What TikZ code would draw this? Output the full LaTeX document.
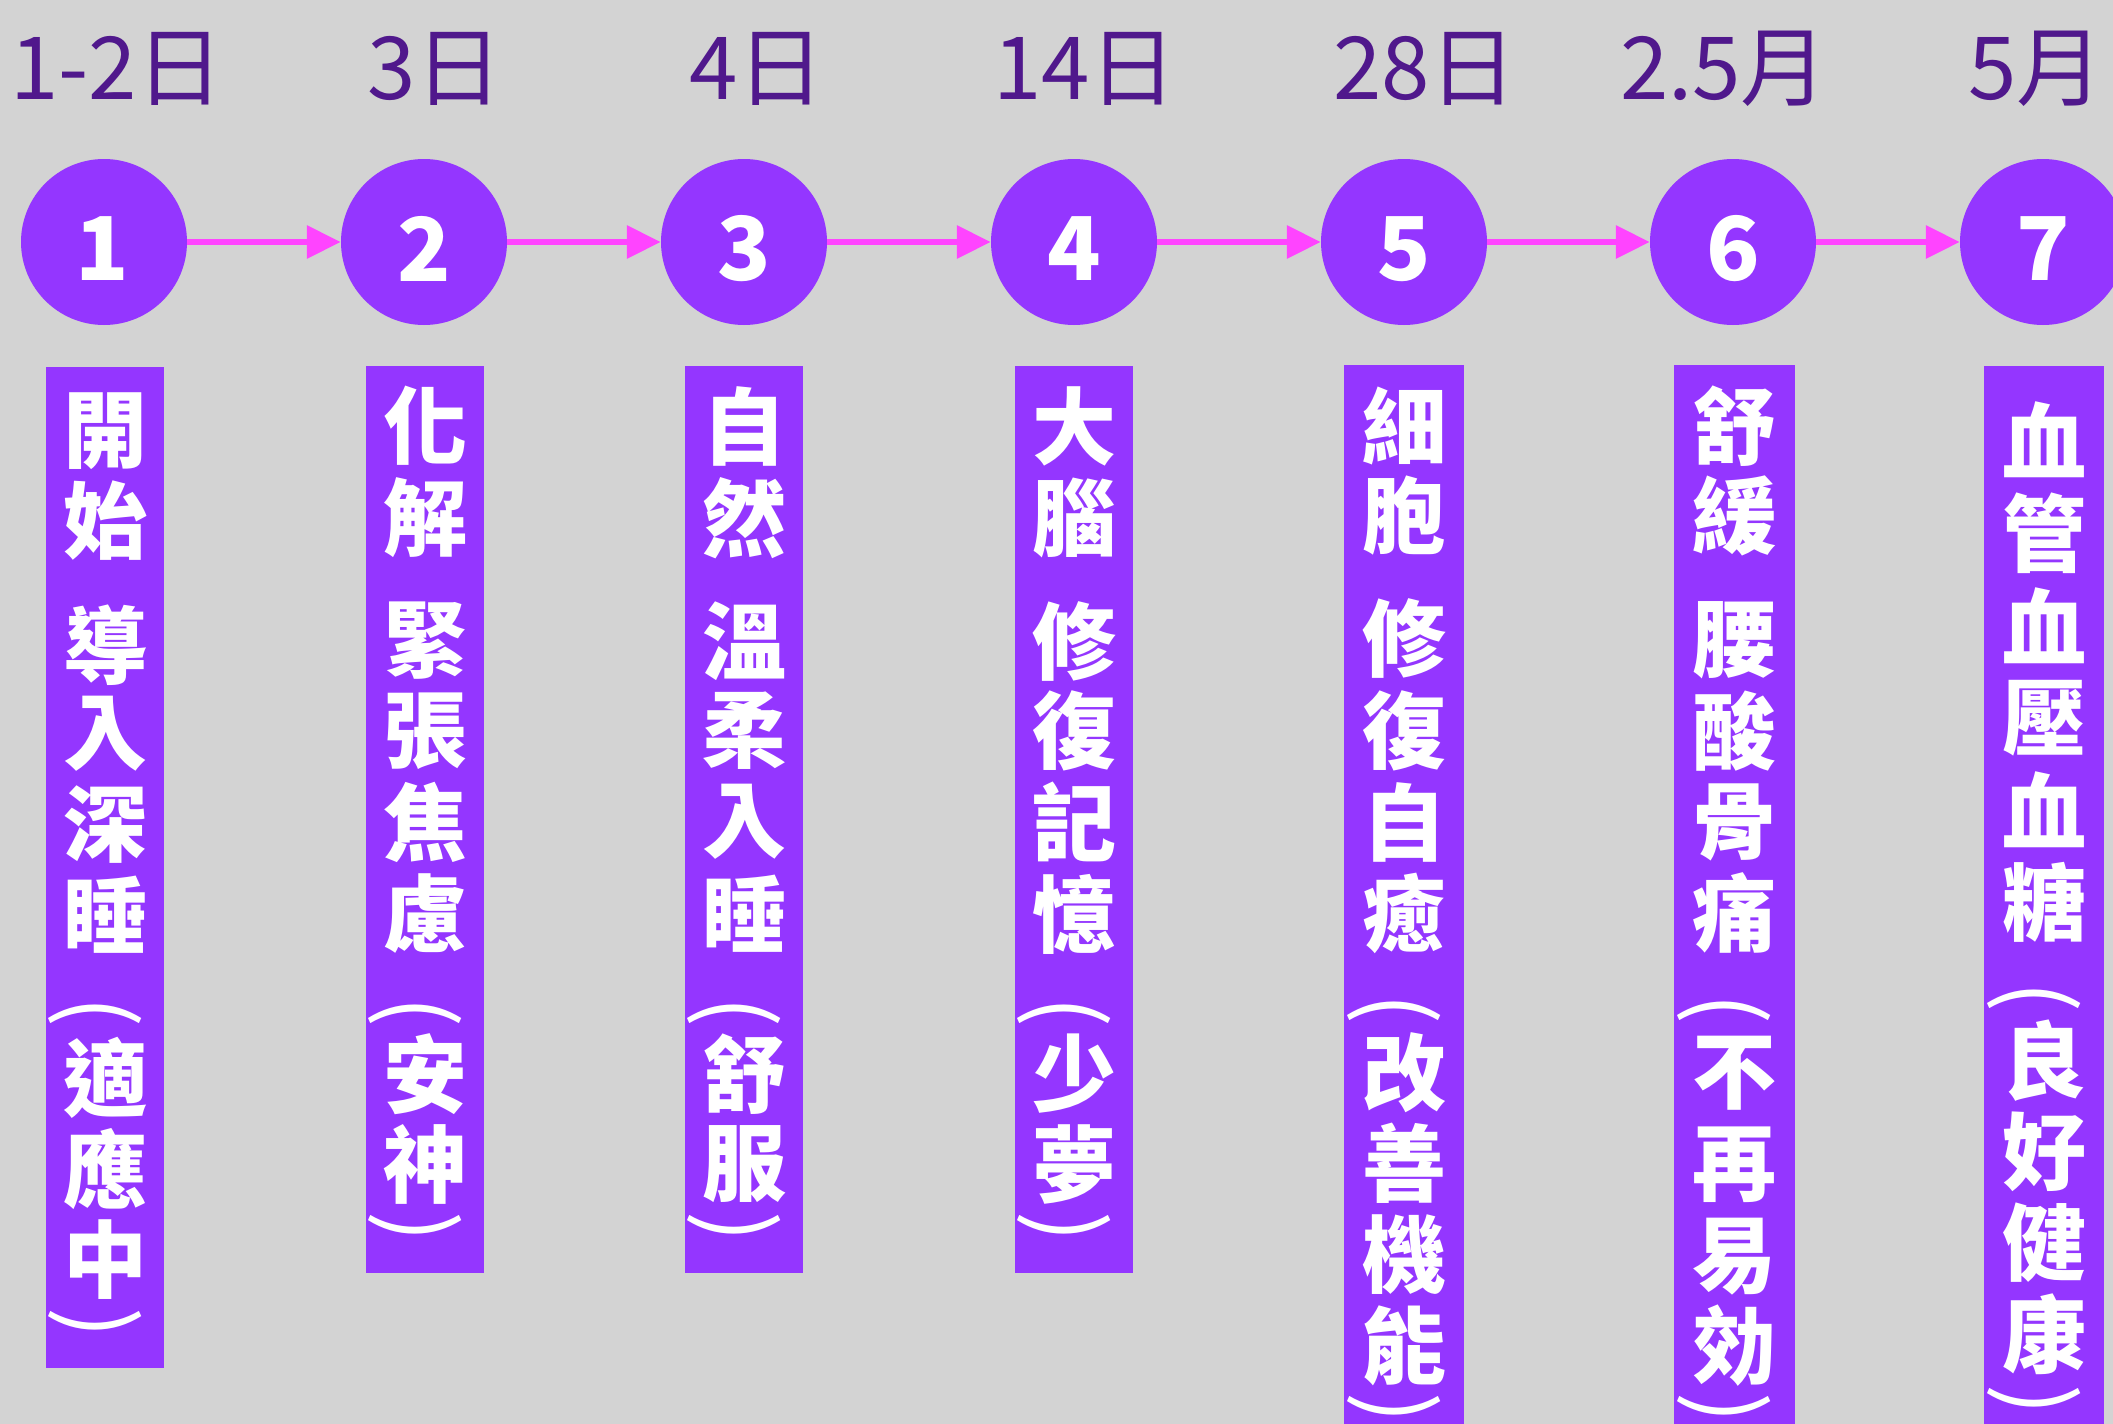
\documentclass[tikz,border=0pt]{standalone}
\usepackage{fontspec}
\usepackage{graphicx}
\setmainfont{Noto Sans CJK TC}
\usetikzlibrary{arrows.meta}
\definecolor{bgc}{HTML}{D3D3D3}
\definecolor{violet}{HTML}{9436FF}
\definecolor{darkv}{HTML}{50188C}
\definecolor{pinkarrow}{HTML}{FF44FF}
\tikzset{
  dot/.style={circle,fill=violet,minimum size=166pt,inner sep=0pt},
  num/.style={text=white,font=\fontsize{88}{90}\selectfont\bfseries,inner sep=0pt},
  daylabel/.style={text=darkv,font=\fontsize{87}{90}\selectfont,inner sep=0pt,anchor=base},
  bar/.style={fill=violet},
  vch/.style={text=white,font=\fontsize{84}{86}\selectfont\bfseries,inner sep=0pt},
  flow/.style={pinkarrow,line width=6pt,-{Triangle[length=34pt,width=32pt]}},
}
\newcommand\vopen{\rotatebox{-90}{\mdseries\fontsize{92}{94}\selectfont(}}
\newcommand\vclose{\rotatebox{-90}{\mdseries\fontsize{92}{94}\selectfont)}}
\newcommand\vtext[3]{%
  \foreach \ch/\yy/\dx [count=\k] in {#3}
    \node[vch] (t#1-\k) at (#2+\dx,\yy) {\ch};
}
\begin{document}
\begin{tikzpicture}[x=1pt,y=-1pt]
\fill[bgc] (0,0) rectangle (2113,1424);
\useasboundingbox (0,0) rectangle (2113,1424);
\clip (0,0) rectangle (2113,1424);

% day labels
\node[daylabel] (d1) at (117,99) {1-2日};
\node[daylabel] (d2) at (435,99) {3日};
\node[daylabel] (d3) at (757,99) {4日};
\node[daylabel] (d4) at (1085,99) {14日};
\node[daylabel] (d5) at (1425,99) {28日};
\node[daylabel] (d6) at (1724,99) {2.5月};
\node[daylabel] (d7) at (2036,99) {5月};

% circles
\node[dot] (c1) at (104,242) {};
\node[dot] (c2) at (424,242) {};
\node[dot] (c3) at (744,242) {};
\node[dot] (c4) at (1074,242) {};
\node[dot] (c5) at (1404,242) {};
\node[dot] (c6) at (1733,242) {};
\node[dot] (c7) at (2043,242) {};
\node[num] (n1) at (102,249) {1};
\node[num] (n2) at (424,249) {2};
\node[num] (n3) at (744,249) {3};
\node[num] (n4) at (1074,249) {4};
\node[num] (n5) at (1404,249) {5};
\node[num] (n6) at (1733,249) {6};
\node[num] (n7) at (2043,249) {7};

% arrows
\draw[flow] (c1) -- (c2);
\draw[flow] (c2) -- (c3);
\draw[flow] (c3) -- (c4);
\draw[flow] (c4) -- (c5);
\draw[flow] (c5) -- (c6);
\draw[flow] (c6) -- (c7);

% bars
\fill[bar] (46,367) rectangle (164,1368);
\fill[bar] (366,366) rectangle (484,1273);
\fill[bar] (685,366) rectangle (803,1273);
\fill[bar] (1015,366) rectangle (1133,1273);
\fill[bar] (1344,365) rectangle (1464,1430);
\fill[bar] (1674,365) rectangle (1795,1430);
\fill[bar] (1984,366) rectangle (2104,1430);

% vertical texts
\vtext{1}{105}{開/431/0, 始/521/0, 導/645/0, 入/734/0, 深/825/0, 睡/915/0, \vopen/1012/-10, 適/1078/0, 應/1169/0, 中/1260/0, \vclose/1323/-10}
\vtext{2}{425}{化/426/0, 解/518/0, 緊/641/0, 張/731/0, 焦/822/0, 慮/914/0, \vopen/1012/-10, 安/1074/0, 神/1164/0, \vclose/1227/-10}
\vtext{3}{744}{自/426/0, 然/518/0, 溫/641/0, 柔/731/0, 入/822/0, 睡/914/0, \vopen/1012/-10, 舒/1074/0, 服/1164/0, \vclose/1227/-10}
\vtext{4}{1074}{大/426/0, 腦/518/0, 修/641/0, 復/731/0, 記/822/0, 憶/914/0, \vopen/1012/-10, 少/1074/0, 夢/1164/0, \vclose/1227/-10}
\vtext{5}{1404}{細/426/0, 胞/516/0, 修/638/0, 復/731/0, 自/822/0, 癒/913/0, \vopen/1009/-10, 改/1073/0, 善/1163/0, 機/1255/0, 能/1346/0, \vclose/1408/-10}
\vtext{6}{1734}{舒/426/0, 緩/516/0, 腰/640/0, 酸/731/0, 骨/822/0, 痛/913/0, \vopen/1009/-10, 不/1073/0, 再/1165/0, 易/1257/0, 効/1346/0, \vclose/1408/-10}
\vtext{7}{2044}{血/440/0, 管/533/0, 血/626/0, 壓/718/0, 血/810/0, 糖/902/0, \vopen/997/-10, 良/1061/0, 好/1152/0, 健/1243/0, 康/1334/0, \vclose/1400/-10}
\end{tikzpicture}
\end{document}
